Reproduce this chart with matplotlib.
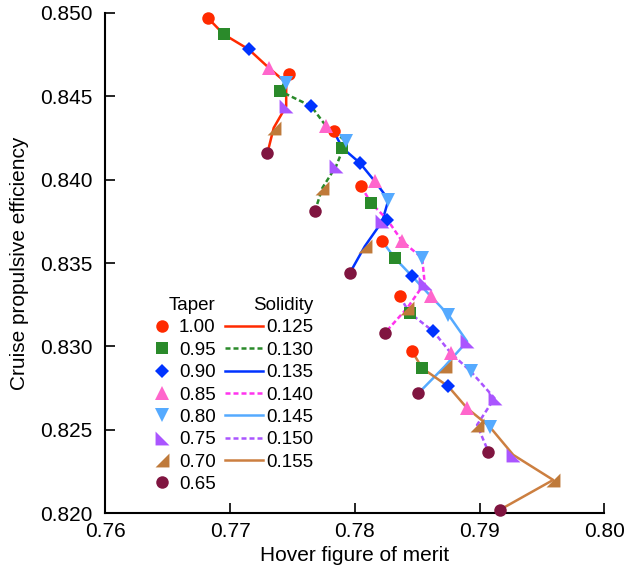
import matplotlib
matplotlib.use("Agg")
import matplotlib.pyplot as plt
from matplotlib.lines import Line2D
from matplotlib.ticker import FormatStrFormatter, MultipleLocator

plt.rcParams['font.family'] = ['Liberation Sans', 'DejaVu Sans']

tapers = ['1.00', '0.95', '0.90', '0.85', '0.80', '0.75', '0.70', '0.65']
solidities = ['0.125', '0.130', '0.135', '0.140', '0.145', '0.150', '0.155']

# hover figure of merit, one row per solidity, columns follow the taper list
fom = [
    [0.7682, 0.7695, 0.7715, 0.7731, 0.7745, 0.7745, 0.7735, 0.7730],
    [0.7747, 0.7740, 0.7765, 0.7777, 0.7793, 0.7785, 0.7774, 0.7768],
    [0.7783, 0.7790, 0.7804, 0.7816, 0.7827, 0.7822, 0.7808, 0.7796],
    [0.7805, 0.7813, 0.7826, 0.7838, 0.7854, 0.7856, 0.7842, 0.7824],
    [0.7822, 0.7832, 0.7846, 0.7861, 0.7875, 0.7890, 0.7872, 0.7851],
    [0.7836, 0.7844, 0.7863, 0.7877, 0.7893, 0.7912, 0.7898, 0.7907],
    [0.7846, 0.7854, 0.7875, 0.7890, 0.7908, 0.7927, 0.7959, 0.7916],
]
# cruise propulsive efficiency, same layout
eff = [
    [0.8497, 0.8487, 0.8478, 0.8467, 0.8458, 0.8444, 0.8431, 0.8416],
    [0.8463, 0.8453, 0.8444, 0.8432, 0.8423, 0.8408, 0.8395, 0.8381],
    [0.8429, 0.8419, 0.8410, 0.8399, 0.8388, 0.8375, 0.8360, 0.8344],
    [0.8396, 0.8386, 0.8376, 0.8363, 0.8353, 0.8338, 0.8323, 0.8308],
    [0.8363, 0.8353, 0.8342, 0.8330, 0.8319, 0.8303, 0.8288, 0.8272],
    [0.8330, 0.8320, 0.8309, 0.8296, 0.8285, 0.8269, 0.8253, 0.8237],
    [0.8297, 0.8287, 0.8276, 0.8263, 0.8252, 0.8235, 0.8220, 0.8202],
]

taper_colors = ['#ff2a00', '#2a8a2a', '#0033ff', '#ff66cc', '#55aaff', '#aa55ff', '#bf7a3a', '#801540']
taper_markers = ['o', 's', 'D', '^', 'v',
                 [(-1, 1), (-1, -1), (1, -1), (-1, 1)],
                 [(1, 1), (1, -1), (-1, -1), (1, 1)],
                 'o']
taper_sizes = [9, 8.5, 7, 10, 10, 10, 10, 9]

sol_colors = ['#ff2a00', '#2a8a2a', '#0033ff', '#ff33ee', '#55aaff', '#aa55ff', '#cc7f40']
sol_styles = ['-', '--', '-', '--', '-', '--', '-']


def dash_of(style):
    return (2, 1.2) if style == '--' else (None, None)


fig = plt.figure(figsize=(6.37, 5.71), dpi=100)
ax = fig.add_axes([0.1653, 0.101, 0.7834, 0.8768])

for i in range(len(solidities)):
    ax.plot(fom[i], eff[i], color=sol_colors[i], linestyle=sol_styles[i],
            linewidth=1.8, dashes=dash_of(sol_styles[i]), zorder=2)

for j in range(len(tapers)):
    xs = [row[j] for row in fom]
    ys = [row[j] for row in eff]
    ax.plot(xs, ys, linestyle='none', marker=taper_markers[j], color=taper_colors[j],
            markersize=taper_sizes[j], markeredgewidth=0, zorder=3, clip_on=False)

ax.set_xlim(0.76, 0.80)
ax.set_ylim(0.820, 0.850)
ax.xaxis.set_major_locator(MultipleLocator(0.01))
ax.yaxis.set_major_locator(MultipleLocator(0.005))
ax.xaxis.set_major_formatter(FormatStrFormatter('%.2f'))
ax.yaxis.set_major_formatter(FormatStrFormatter('%.3f'))
ax.tick_params(direction='in', length=7, width=1.2, labelsize=15)
ax.tick_params(axis='y', pad=9)
ax.tick_params(axis='x', pad=6)
for side in ['top', 'right']:
    ax.spines[side].set_visible(False)
for side in ['left', 'bottom']:
    ax.spines[side].set_linewidth(1.5)

ax.set_xlabel('Hover figure of merit', fontsize=15, labelpad=4)
ax.set_ylabel('Cruise propulsive efficiency', fontsize=15, labelpad=8)

taper_handles = [Line2D([], [], linestyle='none', marker=taper_markers[j], color=taper_colors[j],
                        markersize=taper_sizes[j], markeredgewidth=0) for j in range(len(tapers))]
leg1 = ax.legend(taper_handles, tapers, title='Taper', loc='upper left',
                 bbox_to_anchor=(0.095, 0.432), frameon=False, fontsize=13.5,
                 title_fontsize=13.5, handlelength=1.0, handletextpad=0.4,
                 labelspacing=0.28, borderaxespad=0, borderpad=0)
leg1._legend_box.align = 'right'
ax.add_artist(leg1)

sol_handles = [Line2D([], [], color=sol_colors[i], linestyle=sol_styles[i], linewidth=1.8,
                      dashes=dash_of(sol_styles[i]))
               for i in range(len(solidities))]
leg2 = ax.legend(sol_handles, solidities, title='Solidity', loc='upper left',
                 bbox_to_anchor=(0.24, 0.432), frameon=False, fontsize=13.5,
                 title_fontsize=13.5, handlelength=2.05, handletextpad=0.15,
                 labelspacing=0.28, borderaxespad=0, borderpad=0)
leg2._legend_box.align = 'right'

fig.savefig('out.png', dpi=100)
